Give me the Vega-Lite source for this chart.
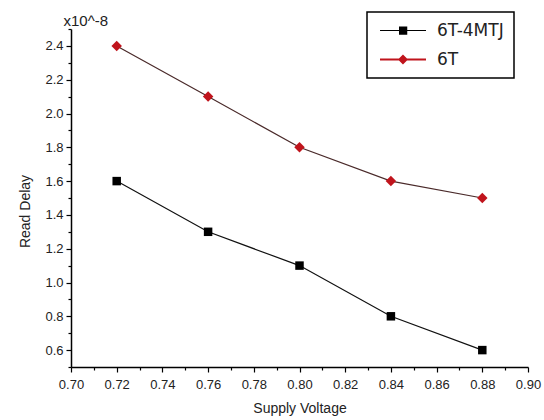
{
  "$schema": "https://vega.github.io/schema/vega-lite/v6.json",
  "width": 457,
  "height": 338,
  "autosize": {"type": "none"},
  "padding": {"left": 71, "top": 29, "right": 16, "bottom": 53},
  "background": "white",
  "config": {
    "view": {"stroke": null},
    "font": "Liberation Sans",
    "axis": {"grid": false, "domainColor": "#000", "tickColor": "#000", "labelColor": "#222", "titleColor": "#222", "labelFont": "Liberation Sans", "titleFont": "Liberation Sans", "titleFontWeight": "normal", "labelFontSize": 13, "titleFontSize": 14, "domainWidth": 1.5, "tickWidth": 1.2}
  },
  "data": {"values": [
    {"v": 0.72, "delay": 1.6, "series": "6T-4MTJ"},
    {"v": 0.76, "delay": 1.3, "series": "6T-4MTJ"},
    {"v": 0.80, "delay": 1.1, "series": "6T-4MTJ"},
    {"v": 0.84, "delay": 0.8, "series": "6T-4MTJ"},
    {"v": 0.88, "delay": 0.6, "series": "6T-4MTJ"},
    {"v": 0.72, "delay": 2.4, "series": "6T"},
    {"v": 0.76, "delay": 2.1, "series": "6T"},
    {"v": 0.80, "delay": 1.8, "series": "6T"},
    {"v": 0.84, "delay": 1.6, "series": "6T"},
    {"v": 0.88, "delay": 1.5, "series": "6T"}
  ]},
  "resolve": {"axis": {"x": "independent", "y": "independent"}},
  "layer": [
    {
      "transform": [{"filter": "datum.series === '6T-4MTJ'"}],
      "mark": {"type": "line", "strokeWidth": 1.2, "color": "#111111"},
      "encoding": {
        "x": {"field": "v", "type": "quantitative", "scale": {"domain": [0.7, 0.9], "nice": false, "zero": false},
          "axis": {"orient": "bottom", "title": "Supply Voltage", "values": [0.70, 0.72, 0.74, 0.76, 0.78, 0.80, 0.82, 0.84, 0.86, 0.88, 0.90], "format": ".2f", "tickSize": 5, "labelPadding": 6, "titlePadding": 10, "labelFlush": false}},
        "y": {"field": "delay", "type": "quantitative", "scale": {"domain": [0.5, 2.5], "nice": false, "zero": false},
          "axis": {"orient": "left", "title": "Read Delay", "values": [0.6, 0.8, 1.0, 1.2, 1.4, 1.6, 1.8, 2.0, 2.2, 2.4], "format": ".1f", "tickSize": 5, "labelPadding": 3, "titlePadding": 12, "titleY": 182}}
      }
    },
    {
      "transform": [{"filter": "datum.series === '6T'"}],
      "mark": {"type": "line", "strokeWidth": 1.2, "color": "#4a2a2a"},
      "encoding": {
        "x": {"field": "v", "type": "quantitative", "scale": {"domain": [0.7, 0.9], "nice": false, "zero": false},
          "axis": {"orient": "bottom", "title": null, "labels": false, "domain": false, "values": [0.71, 0.73, 0.75, 0.77, 0.79, 0.81, 0.83, 0.85, 0.87, 0.89], "tickSize": 3}},
        "y": {"field": "delay", "type": "quantitative", "scale": {"domain": [0.5, 2.5], "nice": false, "zero": false},
          "axis": {"orient": "left", "title": "x10^-8", "titleAngle": 0, "titleAlign": "left", "titleBaseline": "alphabetic", "titleX": -8, "titleY": -4, "titleFontSize": 15, "labels": false, "domain": false, "values": [0.5, 0.7, 0.9, 1.1, 1.3, 1.5, 1.7, 1.9, 2.1, 2.3, 2.5], "tickSize": 3}}
      }
    },
    {
      "transform": [{"filter": "datum.series === '6T-4MTJ'"}],
      "mark": {"type": "point", "filled": true, "opacity": 1, "size": 72, "shape": "square", "color": "#000000"},
      "encoding": {
        "x": {"field": "v", "type": "quantitative", "scale": {"domain": [0.7, 0.9], "nice": false, "zero": false}, "axis": null},
        "y": {"field": "delay", "type": "quantitative", "scale": {"domain": [0.5, 2.5], "nice": false, "zero": false}, "axis": null}
      }
    },
    {
      "transform": [{"filter": "datum.series === '6T'"}],
      "mark": {"type": "point", "filled": true, "opacity": 1, "size": 110, "shape": "diamond", "color": "#c0141c"},
      "encoding": {
        "x": {"field": "v", "type": "quantitative", "scale": {"domain": [0.7, 0.9], "nice": false, "zero": false}, "axis": null},
        "y": {"field": "delay", "type": "quantitative", "scale": {"domain": [0.5, 2.5], "nice": false, "zero": false}, "axis": null}
      }
    },
    {
      "mark": {"type": "point", "filled": true, "opacity": 0, "size": 225},
      "encoding": {
        "x": {"field": "v", "type": "quantitative", "scale": {"domain": [0.7, 0.9], "nice": false, "zero": false}, "axis": null},
        "y": {"field": "delay", "type": "quantitative", "scale": {"domain": [0.5, 2.5], "nice": false, "zero": false}, "axis": null},
        "shape": {"field": "series", "type": "nominal",
          "scale": {"domain": ["6T-4MTJ", "6T"], "range": ["M-0.73,-0.08L5.4,-0.08L5.4,0.08L-0.73,0.08Z M1.8,-0.55L2.9,-0.55L2.9,0.55L1.8,0.55Z", "M-0.73,-0.13L5.4,-0.13L5.4,0.13L-0.73,0.13Z M2.33,-0.67L3,0L2.33,0.67L1.66,0Z"]},
          "legend": {
            "title": null, "orient": "none", "legendX": 296, "legendY": -17,
            "strokeColor": "#000", "fillColor": "white", "padding": 10,
            "labelFont": "DejaVu Sans", "labelFontSize": 17, "labelColor": "#222",
            "symbolSize": 225, "labelOffset": 43, "rowPadding": 11, "symbolOpacity": 1, "symbolStrokeWidth": 0,
            "encode": {"legend": {"update": {"strokeWidth": {"value": 1.5}}}}
          }},
        "color": {"field": "series", "type": "nominal",
          "scale": {"domain": ["6T-4MTJ", "6T"], "range": ["#000000", "#c0141c"]},
          "legend": {
            "title": null, "orient": "none", "legendX": 296, "legendY": -17,
            "strokeColor": "#000", "fillColor": "white", "padding": 10,
            "labelFont": "DejaVu Sans", "labelFontSize": 17, "labelColor": "#222",
            "symbolSize": 225, "labelOffset": 43, "rowPadding": 11, "symbolOpacity": 1, "symbolStrokeWidth": 0,
            "encode": {"legend": {"update": {"strokeWidth": {"value": 1.5}}}}
          }}
      }
    }
  ]
}
